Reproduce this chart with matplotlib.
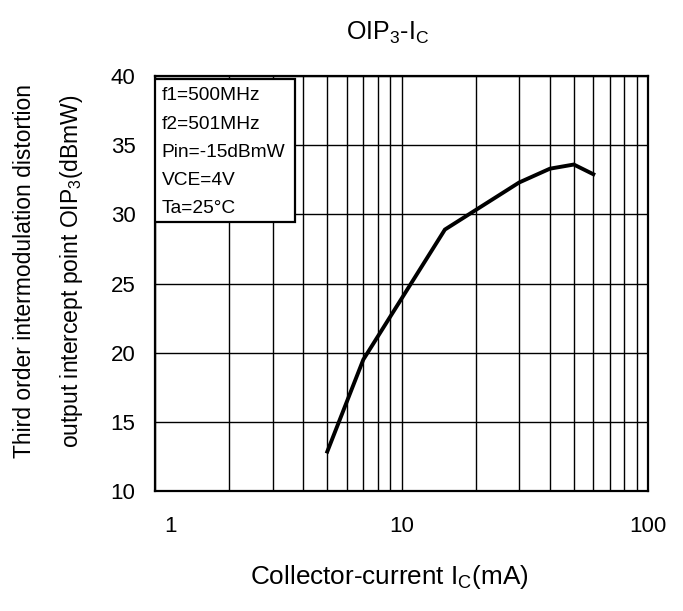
import numpy as np
import matplotlib.pyplot as plt
import matplotlib.transforms as mtransforms
from matplotlib.ticker import FixedLocator, NullFormatter

plt.rcParams['font.family'] = ['Liberation Sans', 'DejaVu Sans']

# collector current (mA) and OIP3 (dBmW)
ic = [5, 7, 15, 30, 40, 50, 60]
oip3 = [12.85, 19.5, 28.9, 32.3, 33.3, 33.6, 32.9]

cond_lines = ["f1=500MHz", "f2=501MHz", "Pin=-15dBmW", "VCE=4V", "Ta=25°C"]

fig = plt.figure(figsize=(6.83, 6.11), dpi=100)
ax = fig.add_axes([155/683, 1-491/611, (648-155)/683, (491-76)/611])

ax.plot(ic, oip3, color='black', lw=2.8, solid_joinstyle='miter', zorder=3)

ax.set_xscale('log')
ax.set_xlim(1, 100)
ax.set_ylim(10, 40)
ax.xaxis.set_major_locator(FixedLocator([1, 10, 100]))
ax.xaxis.set_minor_locator(FixedLocator([m * d for d in (1, 10) for m in range(2, 10)]))
ax.xaxis.set_minor_formatter(NullFormatter())
ax.set_xticklabels(["1", "10", "100"])
ax.set_yticks([10, 15, 20, 25, 30, 35, 40])

ax.grid(which='major', color='black', lw=1.0)
ax.grid(which='minor', axis='x', color='black', lw=1.0)
ax.tick_params(which='both', length=0, labelsize=16)
ax.tick_params(axis='x', pad=18)
ax.tick_params(axis='y', pad=14)
for s in ax.spines.values():
    s.set_linewidth(1.6)

# the "1" label sits a little right of the axis edge in the original
first = ax.get_xticklabels()[0]
first.set_transform(first.get_transform() + mtransforms.ScaledTranslation(15/100, 0, fig.dpi_scale_trans))

ax.set_xlabel("Collector-current I$_\\mathregular{C}$(mA)", fontsize=18.8, va='top')
ax.xaxis.set_label_coords(0.475, -0.1735)
ax.set_ylabel("Third order intermodulation distortion\noutput intercept point OIP$_\\mathregular{3}$(dBmW)",
              fontsize=16.5, linespacing=2.1)
ax.yaxis.set_label_coords(-0.142, 0.53)
fig.text(388/683, 1-39.5/611, "OIP$_\\mathregular{3}$-I$_\\mathregular{C}$", fontsize=18,
         ha='center', va='baseline')

# conditions box
box_x0, box_x1 = 0.0, (295-155)/493
box_y1 = 1 - (79-76)/415
box_y0 = 1 - (222-76)/415
ax.add_patch(plt.Rectangle((box_x0, box_y0), box_x1-box_x0, box_y1-box_y0, transform=ax.transAxes,
                           facecolor='white', edgecolor='black', lw=1.6, zorder=4))
for i, t in enumerate(cond_lines):
    yb = 100.5 + 28.1*i
    ax.text(0.0136, 1 - (yb-76)/415, t, transform=ax.transAxes, fontsize=13.8,
            va='baseline', ha='left', zorder=5)

fig.savefig("out.png", dpi=100)
